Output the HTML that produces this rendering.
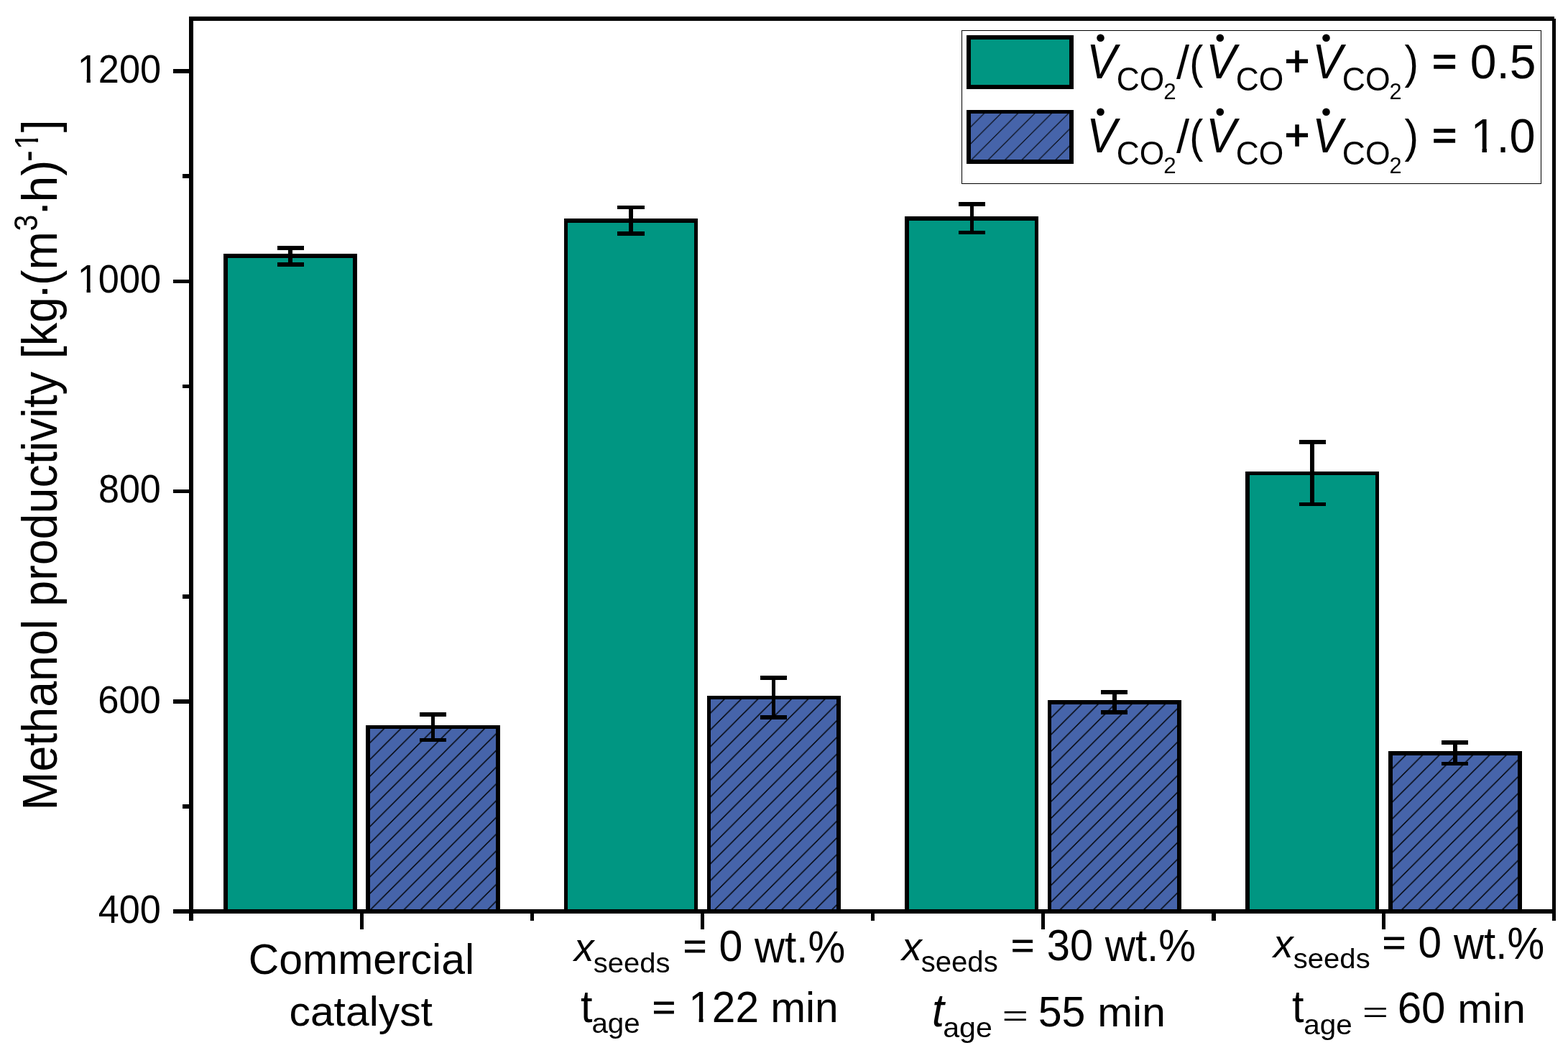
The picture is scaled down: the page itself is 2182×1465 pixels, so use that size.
<!DOCTYPE html>
<html><head><meta charset="utf-8"><title>Methanol productivity</title>
<style>html,body{margin:0;padding:0;background:#fff;overflow:hidden}svg{display:block}</style>
</head><body>
<svg width="2182" height="1465" viewBox="0 0 2182 1465"><defs><pattern id="h0" patternUnits="userSpaceOnUse" x="515.90" y="1009" width="23.3" height="23.3"><path d="M-11.65,34.95 L34.95,-11.65 M-11.65,11.65 L11.65,-11.65 M11.65,34.95 L34.95,11.65" stroke="#000" stroke-width="1.45" fill="none"/></pattern><pattern id="h1" patternUnits="userSpaceOnUse" x="989.40" y="968" width="23.3" height="23.3"><path d="M-11.65,34.95 L34.95,-11.65 M-11.65,11.65 L11.65,-11.65 M11.65,34.95 L34.95,11.65" stroke="#000" stroke-width="1.45" fill="none"/></pattern><pattern id="h2" patternUnits="userSpaceOnUse" x="1464.00" y="974" width="23.3" height="23.3"><path d="M-11.65,34.95 L34.95,-11.65 M-11.65,11.65 L11.65,-11.65 M11.65,34.95 L34.95,11.65" stroke="#000" stroke-width="1.45" fill="none"/></pattern><pattern id="h3" patternUnits="userSpaceOnUse" x="1938.50" y="1045" width="23.3" height="23.3"><path d="M-11.65,34.95 L34.95,-11.65 M-11.65,11.65 L11.65,-11.65 M11.65,34.95 L34.95,11.65" stroke="#000" stroke-width="1.45" fill="none"/></pattern><clipPath id="nf0" clipPathUnits="userSpaceOnUse"><path clip-rule="evenodd" d="M-5000,-5000H5000V5000H-5000ZM2.00,-5.92H12.85V3H2.00Z M18.19,-5.92H28.63V3H18.19Z"/></clipPath><clipPath id="nf1" clipPathUnits="userSpaceOnUse"><path clip-rule="evenodd" d="M-5000,-5000H5000V5000H-5000ZM2.00,-5.92H12.85V3H2.00Z M18.19,-5.92H28.63V3H18.19Z"/></clipPath><pattern id="hl" patternUnits="userSpaceOnUse" x="1350.85" y="153" width="23.45" height="23.45"><path d="M-11.725,35.175 L35.175,-11.725 M-11.725,11.725 L11.725,-11.725 M11.725,35.175 L35.175,11.725" stroke="#000" stroke-width="1.15" fill="none"/></pattern><clipPath id="nf2" clipPathUnits="userSpaceOnUse"><path clip-rule="evenodd" d="M-5000,-5000H5000V5000H-5000ZM2.95,-6.86H16.00V3H2.95Z M22.44,-6.86H34.98V3H22.44Z"/></clipPath><clipPath id="nf3" clipPathUnits="userSpaceOnUse"><path clip-rule="evenodd" d="M-5000,-5000H5000V5000H-5000ZM2.42,-6.33H14.23V3H2.42Z M20.06,-6.33H31.42V3H20.06Z"/></clipPath><clipPath id="nf4" clipPathUnits="userSpaceOnUse"><path clip-rule="evenodd" d="M-5000,-5000H5000V5000H-5000ZM1.28,-5.21H10.46V3H1.28Z M14.96,-5.21H23.81V3H14.96Z"/></clipPath></defs><rect width="2182" height="1465" fill="#fff"/>
<rect x="311" y="353" width="186" height="912" fill="#000"/>
<rect x="317" y="359" width="174" height="906" fill="#009682"/>
<rect x="509" y="1009" width="187" height="256" fill="#000"/>
<rect x="515" y="1014" width="175" height="251" fill="#4664aa"/>
<rect x="515" y="1014" width="175" height="251" fill="url(#h0)"/>
<rect x="785" y="304" width="186" height="961" fill="#000"/>
<rect x="790" y="310" width="176" height="955" fill="#009682"/>
<rect x="984" y="968" width="186" height="297" fill="#000"/>
<rect x="989" y="973" width="175" height="292" fill="#4664aa"/>
<rect x="989" y="973" width="175" height="292" fill="url(#h1)"/>
<rect x="1259" y="301" width="186" height="964" fill="#000"/>
<rect x="1265" y="307" width="175" height="958" fill="#009682"/>
<rect x="1458" y="974" width="186" height="291" fill="#000"/>
<rect x="1463" y="980" width="175" height="285" fill="#4664aa"/>
<rect x="1463" y="980" width="175" height="285" fill="url(#h2)"/>
<rect x="1733" y="656" width="186" height="609" fill="#000"/>
<rect x="1739" y="661" width="175" height="604" fill="#009682"/>
<rect x="1932" y="1045" width="186" height="220" fill="#000"/>
<rect x="1938" y="1051" width="174" height="214" fill="#4664aa"/>
<rect x="1938" y="1051" width="174" height="214" fill="url(#h3)"/>
<rect x="401" y="342" width="6" height="29" fill="#000"/>
<rect x="386" y="342" width="37" height="6" fill="#000"/>
<rect x="386" y="365" width="37" height="6" fill="#000"/>
<rect x="600" y="991" width="5" height="41" fill="#000"/>
<rect x="584" y="991" width="37" height="6" fill="#000"/>
<rect x="584" y="1027" width="37" height="5" fill="#000"/>
<rect x="875" y="286" width="6" height="42" fill="#000"/>
<rect x="859" y="286" width="38" height="5" fill="#000"/>
<rect x="859" y="322" width="38" height="6" fill="#000"/>
<rect x="1074" y="940" width="5" height="61" fill="#000"/>
<rect x="1058" y="940" width="37" height="6" fill="#000"/>
<rect x="1058" y="995" width="37" height="6" fill="#000"/>
<rect x="1350" y="281" width="5" height="45" fill="#000"/>
<rect x="1334" y="281" width="37" height="6" fill="#000"/>
<rect x="1334" y="321" width="37" height="5" fill="#000"/>
<rect x="1548" y="960" width="6" height="34" fill="#000"/>
<rect x="1532" y="960" width="37" height="6" fill="#000"/>
<rect x="1532" y="988" width="37" height="6" fill="#000"/>
<rect x="1823" y="612" width="6" height="92" fill="#000"/>
<rect x="1808" y="612" width="37" height="6" fill="#000"/>
<rect x="1808" y="699" width="37" height="5" fill="#000"/>
<rect x="2022" y="1030" width="6" height="35" fill="#000"/>
<rect x="2006" y="1030" width="37" height="6" fill="#000"/>
<rect x="2006" y="1060" width="37" height="5" fill="#000"/>
<rect x="263" y="23" width="1900" height="6" fill="#000"/>
<rect x="263" y="23" width="6" height="1258" fill="#000"/>
<rect x="2160" y="26" width="5" height="1255" fill="#000"/>
<rect x="241" y="1265" width="1924" height="6" fill="#000"/>
<rect x="241" y="96" width="22" height="6" fill="#000"/>
<rect x="241" y="389" width="22" height="5" fill="#000"/>
<rect x="241" y="681" width="22" height="5" fill="#000"/>
<rect x="241" y="973" width="22" height="6" fill="#000"/>
<rect x="254" y="242" width="9" height="6" fill="#000"/>
<rect x="254" y="535" width="9" height="5" fill="#000"/>
<rect x="254" y="827" width="9" height="6" fill="#000"/>
<rect x="254" y="1119" width="9" height="6" fill="#000"/>
<rect x="501.0" y="1271" width="5.0" height="22" fill="#000"/>
<rect x="975.0" y="1271" width="5.0" height="22" fill="#000"/>
<rect x="1449.0" y="1271" width="5.0" height="22" fill="#000"/>
<rect x="1923.0" y="1271" width="5.0" height="22" fill="#000"/>
<rect x="738" y="1271" width="5" height="10" fill="#000"/>
<rect x="1212" y="1271" width="5" height="10" fill="#000"/>
<rect x="1686" y="1271" width="6" height="10" fill="#000"/>
<text transform="translate(107.77,115.18) scale(0.9964,1.0416)" font-family="'Liberation Sans', Arial, Helvetica, sans-serif" font-size="52.5" clip-path="url(#nf0)">1200</text>
<text transform="translate(107.77,407.28) scale(0.9954,1.0416)" font-family="'Liberation Sans', Arial, Helvetica, sans-serif" font-size="52.5" clip-path="url(#nf1)">1000</text>
<text transform="translate(136.97,699.28) scale(0.9916,1.0416)" font-family="'Liberation Sans', Arial, Helvetica, sans-serif" font-size="52.5">800</text>
<text transform="translate(136.15,992.08) scale(1.0012,1.0336)" font-family="'Liberation Sans', Arial, Helvetica, sans-serif" font-size="52.5">600</text>
<text transform="translate(136.76,1284.28) scale(0.9941,1.0416)" font-family="'Liberation Sans', Arial, Helvetica, sans-serif" font-size="52.5">400</text>
<rect x="1338" y="42" width="807" height="1" fill="#000"/>
<rect x="1338" y="255" width="807" height="1" fill="#000"/>
<rect x="1338" y="42" width="1" height="214" fill="#000"/>
<rect x="2144" y="42" width="1" height="214" fill="#000"/>
<rect x="1345" y="49" width="149" height="75" fill="#000"/>
<rect x="1351" y="55" width="137" height="63" fill="#009682"/>
<rect x="1345" y="153" width="149" height="75" fill="#000"/>
<rect x="1351" y="158" width="137" height="64" fill="#4664aa"/>
<rect x="1351" y="158" width="137" height="64" fill="url(#hl)"/>
<text transform="translate(1512.32,108.90) scale(0.9526,1.0330)" font-family="'Liberation Sans', Arial, Helvetica, sans-serif" font-size="66" font-style="italic">V</text>
<circle cx="1531.5" cy="52.8" r="5.3" fill="#000"/>
<text transform="translate(1553.74,126.47) scale(1.0065,1.0560)" font-family="'Liberation Sans', Arial, Helvetica, sans-serif" font-size="44">CO</text>
<text transform="translate(1619.18,137.90) scale(1.0792,1.0815)" font-family="'Liberation Sans', Arial, Helvetica, sans-serif" font-size="29">2</text>
<text transform="translate(1678.32,108.90) scale(0.9526,1.0330)" font-family="'Liberation Sans', Arial, Helvetica, sans-serif" font-size="66" font-style="italic">V</text>
<circle cx="1697.8" cy="52.8" r="5.3" fill="#000"/>
<text transform="translate(1719.73,126.47) scale(1.0081,1.0560)" font-family="'Liberation Sans', Arial, Helvetica, sans-serif" font-size="44">CO</text>
<text transform="translate(1826.31,108.90) scale(0.9549,1.0330)" font-family="'Liberation Sans', Arial, Helvetica, sans-serif" font-size="66" font-style="italic">V</text>
<circle cx="1845.5" cy="52.8" r="5.3" fill="#000"/>
<text transform="translate(1867.72,126.47) scale(1.0130,1.0560)" font-family="'Liberation Sans', Arial, Helvetica, sans-serif" font-size="44">CO</text>
<text transform="translate(1933.52,137.90) scale(1.0566,1.0815)" font-family="'Liberation Sans', Arial, Helvetica, sans-serif" font-size="29">2</text>
<text transform="translate(1637.00,109.24) scale(1.0000,1.0073)" font-family="'Liberation Sans', Arial, Helvetica, sans-serif" font-size="65">/</text>
<text transform="translate(1655.28,109.29) scale(0.8812,1.0083)" font-family="'Liberation Sans', Arial, Helvetica, sans-serif" font-size="65">(</text>
<text transform="translate(1787.79,105.43) scale(0.9111,0.9008)" font-family="'Liberation Sans', Arial, Helvetica, sans-serif" font-size="65" stroke="#000" stroke-width="1.435">+</text>
<text transform="translate(1954.45,109.10) scale(0.9000,1.0000)" font-family="'Liberation Sans', Arial, Helvetica, sans-serif" font-size="65">)</text>
<text transform="translate(1992.91,104.72) scale(0.9048,0.8810)" font-family="'Liberation Sans', Arial, Helvetica, sans-serif" font-size="65" stroke="#000" stroke-width="1.456">=</text>
<text transform="translate(2045.86,109.03) scale(1.0147,1.0314)" font-family="'Liberation Sans', Arial, Helvetica, sans-serif" font-size="65">0.5</text>
<text transform="translate(1512.32,211.90) scale(0.9526,1.0330)" font-family="'Liberation Sans', Arial, Helvetica, sans-serif" font-size="66" font-style="italic">V</text>
<circle cx="1531.5" cy="155.8" r="5.3" fill="#000"/>
<text transform="translate(1553.74,229.47) scale(1.0065,1.0560)" font-family="'Liberation Sans', Arial, Helvetica, sans-serif" font-size="44">CO</text>
<text transform="translate(1619.18,240.90) scale(1.0792,1.0815)" font-family="'Liberation Sans', Arial, Helvetica, sans-serif" font-size="29">2</text>
<text transform="translate(1678.32,211.90) scale(0.9526,1.0330)" font-family="'Liberation Sans', Arial, Helvetica, sans-serif" font-size="66" font-style="italic">V</text>
<circle cx="1697.8" cy="155.8" r="5.3" fill="#000"/>
<text transform="translate(1719.73,229.47) scale(1.0081,1.0560)" font-family="'Liberation Sans', Arial, Helvetica, sans-serif" font-size="44">CO</text>
<text transform="translate(1826.31,211.90) scale(0.9549,1.0330)" font-family="'Liberation Sans', Arial, Helvetica, sans-serif" font-size="66" font-style="italic">V</text>
<circle cx="1845.5" cy="155.8" r="5.3" fill="#000"/>
<text transform="translate(1867.72,229.47) scale(1.0130,1.0560)" font-family="'Liberation Sans', Arial, Helvetica, sans-serif" font-size="44">CO</text>
<text transform="translate(1933.52,240.90) scale(1.0566,1.0815)" font-family="'Liberation Sans', Arial, Helvetica, sans-serif" font-size="29">2</text>
<text transform="translate(1637.00,212.24) scale(1.0000,1.0073)" font-family="'Liberation Sans', Arial, Helvetica, sans-serif" font-size="65">/</text>
<text transform="translate(1655.28,212.29) scale(0.8812,1.0083)" font-family="'Liberation Sans', Arial, Helvetica, sans-serif" font-size="65">(</text>
<text transform="translate(1787.79,208.43) scale(0.9111,0.9008)" font-family="'Liberation Sans', Arial, Helvetica, sans-serif" font-size="65" stroke="#000" stroke-width="1.435">+</text>
<text transform="translate(1954.45,212.10) scale(0.9000,1.0000)" font-family="'Liberation Sans', Arial, Helvetica, sans-serif" font-size="65">)</text>
<text transform="translate(1992.91,207.72) scale(0.9048,0.8810)" font-family="'Liberation Sans', Arial, Helvetica, sans-serif" font-size="65" stroke="#000" stroke-width="1.456">=</text>
<text transform="translate(2046.56,211.73) scale(0.9976,1.0292)" font-family="'Liberation Sans', Arial, Helvetica, sans-serif" font-size="65" clip-path="url(#nf2)">1.0</text>
<text transform="translate(345.75,1355.49) scale(1.0159,1.0141)" font-family="'Liberation Sans', Arial, Helvetica, sans-serif" font-size="58">Commercial</text>
<text transform="translate(402.46,1426.53) scale(1.0147,0.9889)" font-family="'Liberation Sans', Arial, Helvetica, sans-serif" font-size="58">catalyst</text>
<text transform="translate(799.04,1336.90) scale(0.9496,0.9724)" font-family="'Liberation Sans', Arial, Helvetica, sans-serif" font-size="58" font-style="italic">x</text>
<text transform="translate(825.83,1352.60) scale(1.0131,1.0000)" font-family="'Liberation Sans', Arial, Helvetica, sans-serif" font-size="39.5">seeds</text>
<text transform="translate(950.80,1332.87) scale(0.9628,0.8533)" font-family="'Liberation Sans', Arial, Helvetica, sans-serif" font-size="58" stroke="#000" stroke-width="0.991">=</text>
<text transform="translate(1000.51,1337.47) scale(1.0198,1.0512)" font-family="'Liberation Sans', Arial, Helvetica, sans-serif" font-size="58">0</text>
<text transform="translate(1050.00,1338.56) scale(1.0040,1.0847)" font-family="'Liberation Sans', Arial, Helvetica, sans-serif" font-size="58">wt.%</text>
<text transform="translate(807.88,1421.66) scale(1.0237,1.0842)" font-family="'Liberation Sans', Arial, Helvetica, sans-serif" font-size="58">t</text>
<text transform="translate(823.41,1436.83) scale(1.0224,0.9898)" font-family="'Liberation Sans', Arial, Helvetica, sans-serif" font-size="39.5">age</text>
<text transform="translate(907.82,1418.13) scale(0.9558,0.8693)" font-family="'Liberation Sans', Arial, Helvetica, sans-serif" font-size="58" stroke="#000" stroke-width="0.986">=</text>
<text transform="translate(958.26,1422.10) scale(1.0105,1.0420)" font-family="'Liberation Sans', Arial, Helvetica, sans-serif" font-size="58" clip-path="url(#nf3)">122</text>
<text transform="translate(1072.21,1422.10) scale(1.0116,1.0048)" font-family="'Liberation Sans', Arial, Helvetica, sans-serif" font-size="58">min</text>
<text transform="translate(1254.96,1335.90) scale(0.9588,0.9691)" font-family="'Liberation Sans', Arial, Helvetica, sans-serif" font-size="58" font-style="italic">x</text>
<text transform="translate(1281.73,1351.60) scale(1.0151,1.0069)" font-family="'Liberation Sans', Arial, Helvetica, sans-serif" font-size="39.5">seeds</text>
<text transform="translate(1406.92,1331.92) scale(0.9558,0.8587)" font-family="'Liberation Sans', Arial, Helvetica, sans-serif" font-size="58" stroke="#000" stroke-width="0.992">=</text>
<text transform="translate(1456.76,1336.38) scale(0.9967,1.0463)" font-family="'Liberation Sans', Arial, Helvetica, sans-serif" font-size="58">30</text>
<text transform="translate(1537.80,1337.16) scale(1.0049,1.0724)" font-family="'Liberation Sans', Arial, Helvetica, sans-serif" font-size="58">wt.%</text>
<text transform="translate(1297.11,1428.35) scale(1.0492,1.1026)" font-family="'Liberation Sans', Arial, Helvetica, sans-serif" font-size="58" font-style="italic">t</text>
<text transform="translate(1312.18,1442.79) scale(1.0416,0.9831)" font-family="'Liberation Sans', Arial, Helvetica, sans-serif" font-size="39.5">age</text>
<text transform="translate(1394.56,1430.66) scale(1.1148,0.8966)" font-family="'Liberation Serif', 'Times New Roman', serif" font-size="58">=</text>
<text transform="translate(1444.71,1428.48) scale(1.0192,1.0370)" font-family="'Liberation Sans', Arial, Helvetica, sans-serif" font-size="58">55</text>
<text transform="translate(1527.20,1427.90) scale(1.0128,1.0000)" font-family="'Liberation Sans', Arial, Helvetica, sans-serif" font-size="58">min</text>
<text transform="translate(1772.04,1331.90) scale(0.9527,0.9724)" font-family="'Liberation Sans', Arial, Helvetica, sans-serif" font-size="58" font-style="italic">x</text>
<text transform="translate(1799.73,1346.60) scale(1.0151,1.0034)" font-family="'Liberation Sans', Arial, Helvetica, sans-serif" font-size="39.5">seeds</text>
<text transform="translate(1923.70,1327.87) scale(0.9628,0.8533)" font-family="'Liberation Sans', Arial, Helvetica, sans-serif" font-size="58" stroke="#000" stroke-width="0.991">=</text>
<text transform="translate(1973.53,1332.47) scale(1.0090,1.0512)" font-family="'Liberation Sans', Arial, Helvetica, sans-serif" font-size="58">0</text>
<text transform="translate(2023.10,1333.56) scale(1.0032,1.0847)" font-family="'Liberation Sans', Arial, Helvetica, sans-serif" font-size="58">wt.%</text>
<text transform="translate(1797.88,1422.26) scale(1.0237,1.0737)" font-family="'Liberation Sans', Arial, Helvetica, sans-serif" font-size="58">t</text>
<text transform="translate(1814.21,1438.75) scale(1.0240,0.9763)" font-family="'Liberation Sans', Arial, Helvetica, sans-serif" font-size="39.5">age</text>
<text transform="translate(1895.68,1425.66) scale(1.1074,0.8966)" font-family="'Liberation Serif', 'Times New Roman', serif" font-size="58">=</text>
<text transform="translate(1944.69,1423.48) scale(1.0363,1.0463)" font-family="'Liberation Sans', Arial, Helvetica, sans-serif" font-size="58">60</text>
<text transform="translate(2028.20,1422.90) scale(1.0128,1.0000)" font-family="'Liberation Sans', Arial, Helvetica, sans-serif" font-size="58">min</text>
<text transform="translate(79.00,1127.40) rotate(-90) scale(1.0093,1.0606)" font-family="'Liberation Sans', Arial, Helvetica, sans-serif" font-size="64">Methanol productivity [kg</text>
<text transform="translate(79.95,417.18) rotate(-90) scale(1.1040,1.0143)" font-family="'Liberation Sans', Arial, Helvetica, sans-serif" font-size="64">·</text>
<text transform="translate(79.00,397.02) rotate(-90) scale(1.0053,1.0606)" font-family="'Liberation Sans', Arial, Helvetica, sans-serif" font-size="64">(m</text>
<text transform="translate(52.40,321.58) rotate(-90) scale(0.9580,1.0614)" font-family="'Liberation Sans', Arial, Helvetica, sans-serif" font-size="43">3</text>
<text transform="translate(79.85,301.70) rotate(-90) scale(1.1200,1.0000)" font-family="'Liberation Sans', Arial, Helvetica, sans-serif" font-size="64">·</text>
<text transform="translate(79.00,281.54) rotate(-90) scale(1.0321,1.0606)" font-family="'Liberation Sans', Arial, Helvetica, sans-serif" font-size="64">h)</text>
<text transform="translate(56.90,224.91) rotate(-90) scale(1.1048,1.3231)" font-family="'Liberation Sans', Arial, Helvetica, sans-serif" font-size="43">-</text>
<text transform="translate(53.00,208.16) rotate(-90) scale(1.0308,1.0817)" font-family="'Liberation Sans', Arial, Helvetica, sans-serif" font-size="43" clip-path="url(#nf4)">1</text>
<text transform="translate(79.00,184.30) rotate(-90) scale(1.0039,1.0606)" font-family="'Liberation Sans', Arial, Helvetica, sans-serif" font-size="64">]</text>
</svg>
</body></html>
